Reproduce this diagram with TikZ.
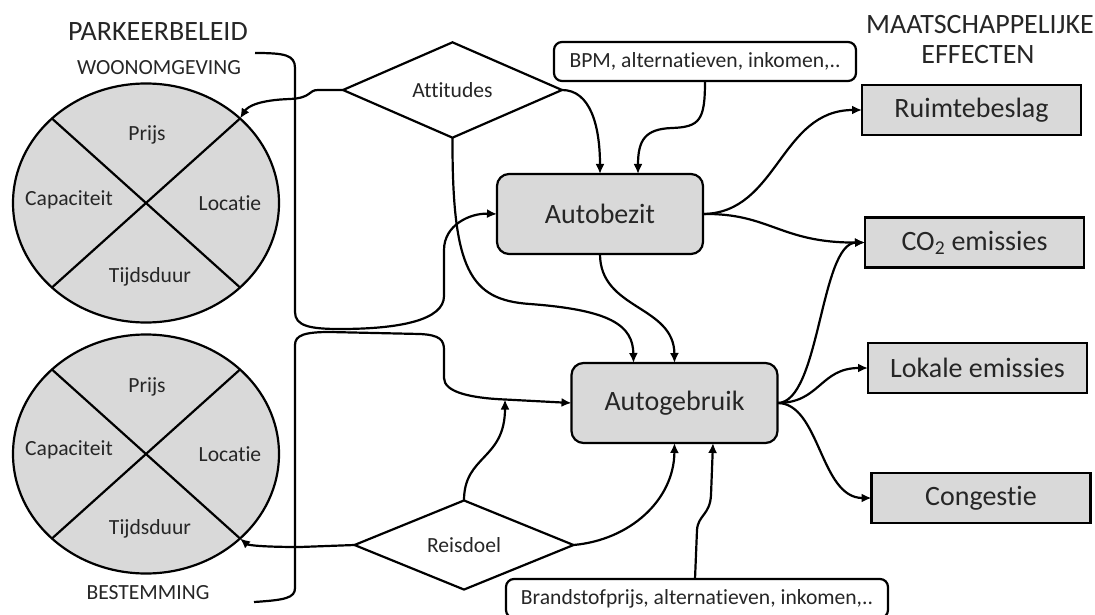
\documentclass[tikz,border=0pt]{standalone}
\usepackage{fontspec}
\setmainfont{Carlito}[Ligatures=NoCommon]
\usetikzlibrary{shapes.geometric,arrows.meta}
\definecolor{grijs}{HTML}{D9D9D9}
\definecolor{tekst}{HTML}{262626}
\begin{document}
\begin{tikzpicture}[x=1pt,y=-1pt,line width=2.2pt,>={Latex[length=10pt,width=9pt]},
  groot/.style={font=\fontsize{28}{32}\selectfont,text=tekst},
  klein/.style={font=\fontsize{21.6}{25}\selectfont,text=tekst},
  cirkel/.style={draw,ellipse,fill=grijs,minimum width=266pt,minimum height=239pt,inner sep=0pt,outer sep=0pt},
  ruit/.style={draw,diamond,klein,fill=white,minimum width=219pt,minimum height=73pt,inner sep=0pt,outer sep=0pt},
  kern/.style={draw,rounded corners=12pt,fill=grijs,groot,minimum width=206pt,minimum height=80pt,outer sep=0pt},
  info/.style={draw,rounded corners=8pt,fill=white,klein,minimum height=39pt,outer sep=0pt},
  effect/.style={draw,fill=grijs,groot,minimum width=219pt,minimum height=50pt,outer sep=0pt}]
\useasboundingbox (0,0) rectangle (1095,615);
\node[groot](parkeer) at (158,32){PARKEERBELEID};
\node[klein](woonlbl) at (159,68){WOONOMGEVING};
\node[klein](bestlbl) at (148,593){BESTEMMING};
\node[groot](maat) at (980,25){MAATSCHAPPELIJKE};
\node[groot](eff) at (978,55){EFFECTEN};
\node[cirkel](woon) at (146,203){};
\draw(woon.north west)--(woon.south east);
\draw(woon.north east)--(woon.south west);
\node[klein] at (147,135){Prijs};
\node[klein] at (69,200){Capaciteit};
\node[klein] at (230,203){Locatie};
\node[klein] at (150,277){Tijdsduur};
\node[cirkel](best) at (146,454){};
\draw(best.north west)--(best.south east);
\draw(best.north east)--(best.south west);
\node[klein] at (147,387){Prijs};
\node[klein] at (69,450){Capaciteit};
\node[klein] at (230,454){Locatie};
\node[klein] at (150,529){Tijdsduur};
\node[ruit](att) at (452.5,90){Attitudes};
\node[ruit](reis) at (464,545){Reisdoel};
\node[kern](bezit) at (600,214){Autobezit};
\node[kern](gebruik) at (674.5,403){Autogebruik};
\node[info,minimum width=302pt](bpm) at (705,61.5){BPM, alternatieven, inkomen,..};
\node[info,minimum width=382pt](brand) at (697,598.5){Brandstofprijs, alternatieven, inkomen,..};
\node[effect](ruimte) at (971.5,110){Ruimtebeslag};
\node[effect](co2) at (974.5,242.5){CO\textsubscript{2} emissies};
\node[effect](lokaal) at (977.5,368){Lokale emissies};
\node[effect](cong) at (981,498){Congestie};
\coordinate(boog1) at (255,53);
\coordinate(boog2) at (254,602);
\coordinate(knik) at (505,399.5);
\draw[->](boog1)..controls(285,53)and(295,55)..(295,68)--(295,312)
  ..controls(295,326)and(310,329)..(340,329)..controls(400,329)and(444,320)..(444,296)
  --(444,250)..controls(444,225)and(470,213)..(bezit.west);
\draw[->](boog2)..controls(285,600)and(295,598)..(295,588)--(295,345)
  ..controls(295,335)and(305,332)..(330,332)--(420,334)..controls(440,335)and(444,340)..(444,350)
  --(444,378)..controls(444,392)and(470,398)..(knik)--(gebruik.west);
\draw[->](att.west)--(318,90)..controls(308,90)and(312,98)..(290,99)..controls(260,100)and(248,106)..(woon.north east);
\draw[->](att.south)..controls(452,270)and(470,300)..(530,304)..controls(610,310)and(633,325)..([xshift=-41pt]gebruik.north);
\draw[->](att.east)..controls(590,90)and(600,125)..(bezit.north);
\draw[->](bpm.south)..controls(705,120)and(700,127)..(672,128)..controls(645,129)and(638,140)..([xshift=38pt]bezit.north);
\draw[->](bezit.east)..controls(778,213)and(780,110)..(ruimte.west);
\draw[->](bezit.east)..controls(770,213)and(780,243)..(co2.west);
\draw[->](bezit.south)..controls(600,310)and(674,305)..(gebruik.north);
\draw[->](gebruik.east)..controls(820,403)and(820,243)..(co2.west);
\draw[->](gebruik.east)..controls(820,403)and(820,368)..(lokaal.west);
\draw[->](gebruik.east)..controls(820,403)and(820,498)..(cong.west);
\draw[->]([xshift=-2pt]brand.north)--(697,530)..controls(698,515)and(710,515)..(711,495)--([xshift=38.5pt]gebruik.south);
\draw[->](reis.east)..controls(630,540)and(674,500)..(gebruik.south);
\draw[->](reis.north)..controls(464,455)and(505,460)..(knik);
\draw[->](reis.west)--(300,547)..controls(260,547)and(248,545)..(best.south east);
\end{tikzpicture}
\end{document}
